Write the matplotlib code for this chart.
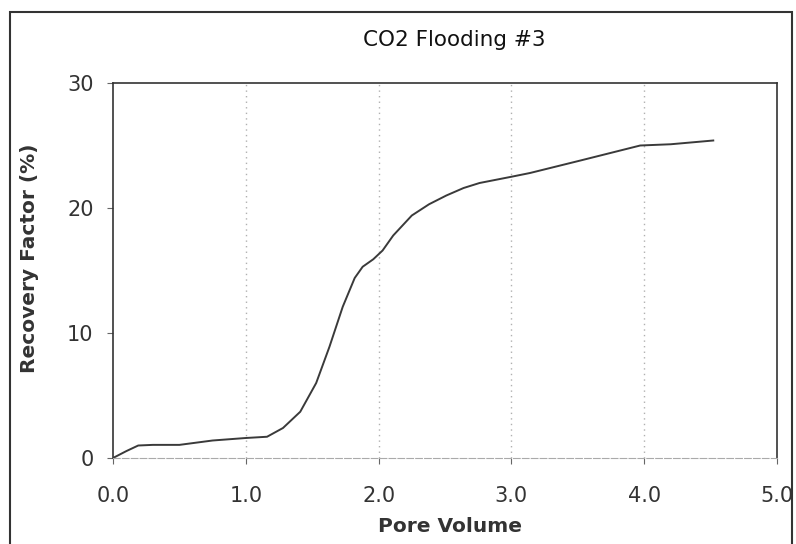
import matplotlib
matplotlib.use("Agg")
import matplotlib.pyplot as plt
from matplotlib.patches import Rectangle

pore_volume = [0.0, 0.10, 0.19, 0.30, 0.50, 0.75, 1.00, 1.16, 1.28, 1.41, 1.53,
               1.63, 1.73, 1.82, 1.88, 1.96, 2.03, 2.11, 2.25, 2.38, 2.51, 2.64,
               2.76, 3.00, 3.14, 3.52, 3.97, 4.20, 4.52]
recovery = [0.0, 0.55, 1.0, 1.05, 1.05, 1.4, 1.6, 1.7, 2.4, 3.7, 6.0,
            8.9, 12.1, 14.4, 15.3, 15.9, 16.6, 17.8, 19.4, 20.3, 21.0, 21.6,
            22.0, 22.5, 22.8, 23.8, 25.0, 25.1, 25.4]
x_ticks = [0, 1, 2, 3, 4, 5]
x_labels = ["0.0", "1.0", "2.0", "3.0", "4.0", "5.0"]
y_ticks = [0, 10, 20, 30]

fig = plt.figure(figsize=(7.96, 5.44), dpi=100)
fig.patches.append(Rectangle((10/796, -0.05), (792-10)/796, 1.05 - 12/544,
                             transform=fig.transFigure, fill=False,
                             edgecolor="#333333", linewidth=1.5))
ax = fig.add_axes([113/796, 1-458/544, (777-113)/796, (458-83)/544])
ax.plot(pore_volume, recovery, color="#3a3a3a", linewidth=1.4)
ax.set_xlim(0, 5)
ax.set_ylim(0, 30)
ax.set_xticks(x_ticks)
ax.set_xticklabels(x_labels)
ax.set_yticks(y_ticks)
for gx in [1, 2, 3, 4]:
    ax.axvline(gx, color="#b0b0b0", linestyle=(0, (1, 3)), linewidth=1.0, zorder=0)
for s in ["left", "top", "right"]:
    ax.spines[s].set_color("#333333")
    ax.spines[s].set_linewidth(1.2)
ax.spines["bottom"].set_color("#aaaaaa")
ax.spines["bottom"].set_linestyle((0, (6, 2)))
ax.tick_params(axis="both", direction="out", length=4, color="#666666",
               labelsize=15, labelcolor="#333333")
ax.tick_params(axis="x", pad=16)
ax.tick_params(axis="y", pad=10)
fig.text(454/796, 1-40/544, "CO2 Flooding #3", ha="center", va="center",
         fontsize=15.5, color="#111111")
fig.text(450/796, 1-527/544, "Pore Volume", ha="center", va="center",
         fontsize=14.5, fontweight="bold", color="#333333")
fig.text(30/796, 1-258/544, "Recovery Factor (%)", ha="center", va="center",
         rotation=90, fontsize=14.5, fontweight="bold", color="#333333")
fig.savefig("out.png", dpi=100)
